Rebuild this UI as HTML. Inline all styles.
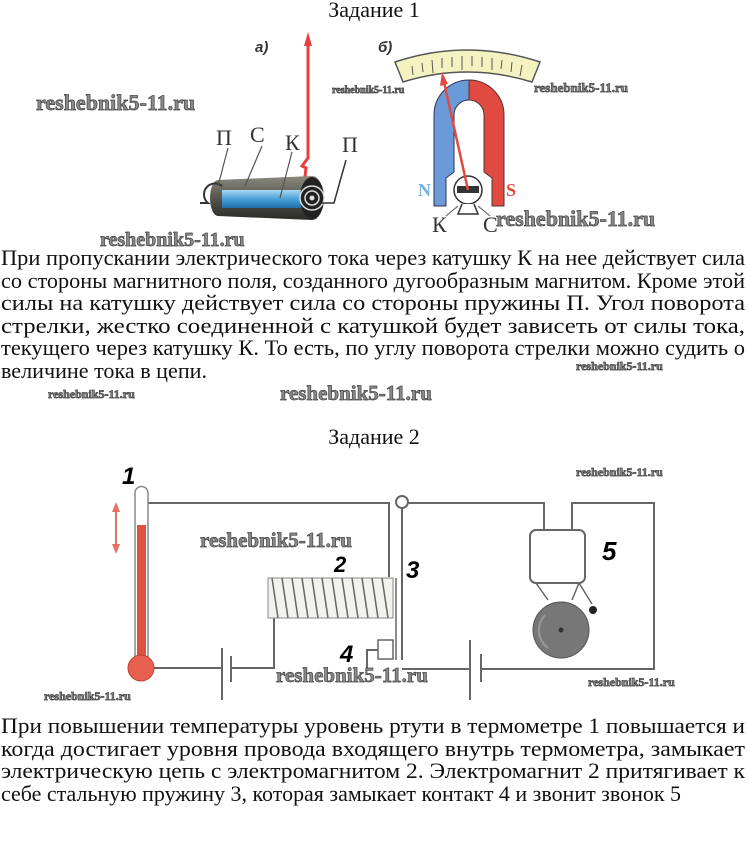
<!DOCTYPE html>
<html><head><meta charset="utf-8"><style>
html,body{margin:0;padding:0;background:#fff;}
svg{display:block}
.t{font-family:"Liberation Serif",serif;font-size:22px;fill:#111}
.wm{font-family:"Liberation Serif",serif;font-weight:bold;fill:#8a8a8a;stroke:#444;stroke-width:0.7}
.lb{font-family:"Liberation Serif",serif;font-size:22px;fill:#333}
.hw{font-family:"Liberation Sans",sans-serif;font-weight:bold;font-style:italic;fill:#000}
.w{stroke:#666;stroke-width:2;fill:none}
</style></head><body>
<svg width="748" height="846" viewBox="0 0 748 846" xmlns="http://www.w3.org/2000/svg">
<text class="t" x="374" y="17" text-anchor="middle">Задание 1</text>

<!-- Figure a -->
<text x="255" y="52" font-family="Liberation Sans" font-weight="bold" font-style="italic" font-size="15" fill="#333">а)</text>
<path d="M308 42 L308 158 L302 166 L306 168 L304 185" stroke="#e84040" stroke-width="3" fill="none"/>
<polygon points="308,32 304,46 312,46" fill="#e84040"/>
<defs>
<linearGradient id="cyl" x1="0" y1="0" x2="0" y2="1"><stop offset="0" stop-color="#8a8a80"/><stop offset=".5" stop-color="#56564e"/><stop offset="1" stop-color="#2a2a26"/></linearGradient>
<linearGradient id="blu" x1="0" y1="0" x2="0" y2="1"><stop offset="0" stop-color="#a8d8f0"/><stop offset=".5" stop-color="#4aa0d8"/><stop offset="1" stop-color="#2070a8"/></linearGradient>
</defs>
<path d="M218 180 L312 176 A12 22 0 0 1 312 220 L218 216 A8 18 0 0 1 218 180 Z" fill="url(#cyl)"/>
<rect x="222" y="190" width="80" height="18" fill="url(#blu)"/>
<ellipse cx="312" cy="198" rx="12" ry="21" fill="#222"/>
<circle cx="312" cy="198" r="12" fill="none" stroke="#ddd" stroke-width="1.5"/>
<circle cx="312" cy="198" r="7" fill="none" stroke="#ddd" stroke-width="1.5"/>
<circle cx="312" cy="198" r="2.5" fill="#ddd"/>
<path d="M200 203 L208 203 A10 10 0 0 1 222 186" stroke="#333" stroke-width="2" fill="none"/>
<path d="M322 203 L334 203 L346 160" stroke="#333" stroke-width="1.5" fill="none"/>
<path d="M218 186 L228 148 M245 186 L262 146 M280 198 L292 152" stroke="#555" stroke-width="1.2"/>
<text class="lb" x="216" y="145">П</text>
<text class="lb" x="250" y="142">С</text>
<text class="lb" x="285" y="150">К</text>
<text class="lb" x="342" y="152">П</text>

<!-- Figure b -->
<text x="378" y="52" font-family="Liberation Sans" font-weight="bold" font-style="italic" font-size="15" fill="#333">б)</text>
<path d="M395 62 Q467 38 540 62 L532 82 Q467 62 403 82 Z" fill="#f4f2c0" stroke="#555" stroke-width="1.5"/>
<g stroke="#555" stroke-width="1">
<line x1="412" y1="66" x2="413" y2="75"/><line x1="422" y1="63" x2="423" y2="72"/><line x1="432" y1="60" x2="433" y2="73"/><line x1="442" y1="58" x2="442" y2="68"/><line x1="452" y1="57" x2="452" y2="67"/><line x1="462" y1="56" x2="462" y2="70"/><line x1="472" y1="56" x2="472" y2="66"/><line x1="482" y1="57" x2="482" y2="67"/><line x1="492" y1="58" x2="492" y2="70"/><line x1="502" y1="60" x2="501" y2="69"/><line x1="512" y1="62" x2="511" y2="72"/><line x1="522" y1="65" x2="520" y2="76"/>
</g>
<path d="M434 206 L434 115 A35 35 0 0 1 469 80 L469 100 A15 15 0 0 0 454 115 L454 172 L446 178 L446 206 Z" fill="#6a9ad8" stroke="#335" stroke-width="1"/>
<path d="M504 206 L504 115 A35 35 0 0 0 469 80 L469 100 A15 15 0 0 1 484 115 L484 172 L492 178 L492 206 Z" fill="#e04a40" stroke="#533" stroke-width="1"/>
<circle cx="468" cy="190" r="14" fill="#fff" stroke="#333" stroke-width="1.5"/>
<rect x="457" y="186" width="22" height="7" fill="#333"/>
<path d="M462 204 L458 214 L478 214 L474 204" fill="#fff" stroke="#333" stroke-width="1.5"/>
<line x1="468" y1="190" x2="444" y2="82" stroke="#e04a40" stroke-width="2.5"/>
<polygon points="442,72 440,86 448,84" fill="#e04a40"/>
<text x="418" y="196" font-family="Liberation Serif" font-weight="bold" font-size="18" fill="#7ab0e0">N</text>
<text x="506" y="196" font-family="Liberation Serif" font-weight="bold" font-size="18" fill="#e04a40">S</text>
<text class="lb" x="432" y="232" font-size="18">К</text>
<text class="lb" x="483" y="232" font-size="18">С</text>
<line x1="446" y1="216" x2="458" y2="206" stroke="#555"/><line x1="490" y1="216" x2="478" y2="206" stroke="#555"/>

<!-- watermarks top -->
<text class="wm" x="36" y="110" font-size="22">reshebnik5-11.ru</text>
<text class="wm" x="332" y="93" font-size="10">reshebnik5-11.ru</text>
<text class="wm" x="534" y="92" font-size="13">reshebnik5-11.ru</text>
<text class="wm" x="496" y="226" font-size="22">reshebnik5-11.ru</text>
<text class="wm" x="100" y="246" font-size="20">reshebnik5-11.ru</text>

<!-- paragraph 1 -->
<text class="t" x="1" y="265" textLength="744" lengthAdjust="spacingAndGlyphs">При пропускании электрического тока через катушку К на нее действует сила</text>
<text class="t" x="1" y="288" textLength="744" lengthAdjust="spacingAndGlyphs">со стороны магнитного поля, созданного дугообразным магнитом. Кроме этой</text>
<text class="t" x="1" y="310" textLength="744" lengthAdjust="spacingAndGlyphs">силы на катушку действует сила со стороны пружины П. Угол поворота</text>
<text class="t" x="1" y="333" textLength="744" lengthAdjust="spacingAndGlyphs">стрелки, жестко соединенной с катушкой будет зависеть от силы тока,</text>
<text class="t" x="1" y="355" textLength="744" lengthAdjust="spacingAndGlyphs">текущего через катушку К. То есть, по углу поворота стрелки можно судить о</text>
<text class="t" x="1" y="378" textLength="206" lengthAdjust="spacingAndGlyphs">величине тока в цепи.</text>
<text class="wm" x="576" y="370" font-size="12">reshebnik5-11.ru</text>
<text class="wm" x="48" y="398" font-size="12">reshebnik5-11.ru</text>
<text class="wm" x="280" y="400" font-size="21">reshebnik5-11.ru</text>
<text class="t" x="374" y="444" text-anchor="middle">Задание 2</text>

<!-- circuit -->
<path class="w" d="M148 503 L389 503 L389 577"/>
<path class="w" d="M408 503 L544 503 L544 530"/>
<path class="w" d="M572 530 L572 503 L654 503 L654 669 L481 669"/>
<path class="w" d="M470 669 L402 669"/>
<path class="w" d="M153 668 L222 668"/>
<path class="w" d="M231 668 L274 668 L274 617"/>
<path class="w" d="M378 650 L367 650 L367 668"/>
<line x1="222" y1="648" x2="222" y2="700" stroke="#666" stroke-width="2"/>
<line x1="231" y1="656" x2="231" y2="682" stroke="#666" stroke-width="2"/>
<line x1="470" y1="640" x2="470" y2="700" stroke="#666" stroke-width="2"/>
<line x1="481" y1="654" x2="481" y2="682" stroke="#666" stroke-width="2"/>
<circle cx="402" cy="502" r="6" fill="#fff" stroke="#666" stroke-width="2"/>
<line x1="402" y1="508" x2="402" y2="660" stroke="#666" stroke-width="2"/>
<line x1="396" y1="578" x2="396" y2="660" stroke="#666" stroke-width="1.5"/>
<rect x="378" y="640" width="15" height="19" fill="#fff" stroke="#666" stroke-width="1.5"/>
<!-- coil -->
<rect x="268" y="578" width="125" height="40" fill="#f2f2ee" stroke="#888"/>
<g stroke="#666" stroke-width="1.5">
<line x1="272" y1="578" x2="278" y2="618"/><line x1="282" y1="578" x2="288" y2="618"/><line x1="292" y1="578" x2="298" y2="618"/><line x1="302" y1="578" x2="308" y2="618"/><line x1="312" y1="578" x2="318" y2="618"/><line x1="322" y1="578" x2="328" y2="618"/><line x1="332" y1="578" x2="338" y2="618"/><line x1="342" y1="578" x2="348" y2="618"/><line x1="352" y1="578" x2="358" y2="618"/><line x1="362" y1="578" x2="368" y2="618"/><line x1="372" y1="578" x2="378" y2="618"/><line x1="382" y1="578" x2="388" y2="618"/>
</g>
<!-- thermometer -->
<path d="M135 668 L135 493 A6.5 6.5 0 0 1 148 493 L148 668" fill="#fff" stroke="#888" stroke-width="1.5"/>
<rect x="137" y="525" width="9" height="140" fill="#e05040"/>
<circle cx="141" cy="668" r="13" fill="#e86050" stroke="#c04030" stroke-width="1"/>
<line x1="116" y1="508" x2="116" y2="548" stroke="#e87060" stroke-width="2"/>
<polygon points="116,502 112,512 120,512" fill="#e87060"/><polygon points="116,554 112,544 120,544" fill="#e87060"/>
<!-- bell -->
<rect x="530" y="530" width="55" height="53" rx="6" fill="#fff" stroke="#666" stroke-width="2"/>
<path d="M536 583 L548 600 M579 583 L572 600 M579 583 L592 604" stroke="#666" stroke-width="1.5"/>
<circle cx="561" cy="630" r="28" fill="#777" stroke="#555"/>
<path d="M545 615 A22 22 0 0 0 548 648" stroke="#999" fill="none" stroke-width="2"/>
<circle cx="561" cy="630" r="2.5" fill="#333"/>
<circle cx="593" cy="610" r="4" fill="#222"/>
<!-- handwritten labels -->
<text class="hw" x="122" y="484" font-size="24">1</text>
<text class="hw" x="334" y="572" font-size="22">2</text>
<text class="hw" x="406" y="578" font-size="24">3</text>
<text class="hw" x="340" y="662" font-size="24">4</text>
<text class="hw" x="602" y="560" font-size="26">5</text>
<!-- watermarks circuit -->
<text class="wm" x="576" y="476" font-size="12">reshebnik5-11.ru</text>
<text class="wm" x="200" y="547" font-size="21">reshebnik5-11.ru</text>
<text class="wm" x="276" y="682" font-size="21">reshebnik5-11.ru</text>
<text class="wm" x="44" y="700" font-size="12">reshebnik5-11.ru</text>
<text class="wm" x="588" y="686" font-size="12">reshebnik5-11.ru</text>

<!-- paragraph 2 -->
<text class="t" x="1" y="733" textLength="744" lengthAdjust="spacingAndGlyphs">При повышении температуры уровень ртути в термометре 1 повышается и</text>
<text class="t" x="1" y="756" textLength="744" lengthAdjust="spacingAndGlyphs">когда достигает уровня провода входящего внутрь термометра, замыкает</text>
<text class="t" x="1" y="778" textLength="744" lengthAdjust="spacingAndGlyphs">электрическую цепь с электромагнитом 2. Электромагнит 2 притягивает к</text>
<text class="t" x="1" y="801" textLength="680" lengthAdjust="spacingAndGlyphs">себе стальную пружину 3, которая замыкает контакт 4 и звонит звонок 5</text>
</svg>
</body></html>
